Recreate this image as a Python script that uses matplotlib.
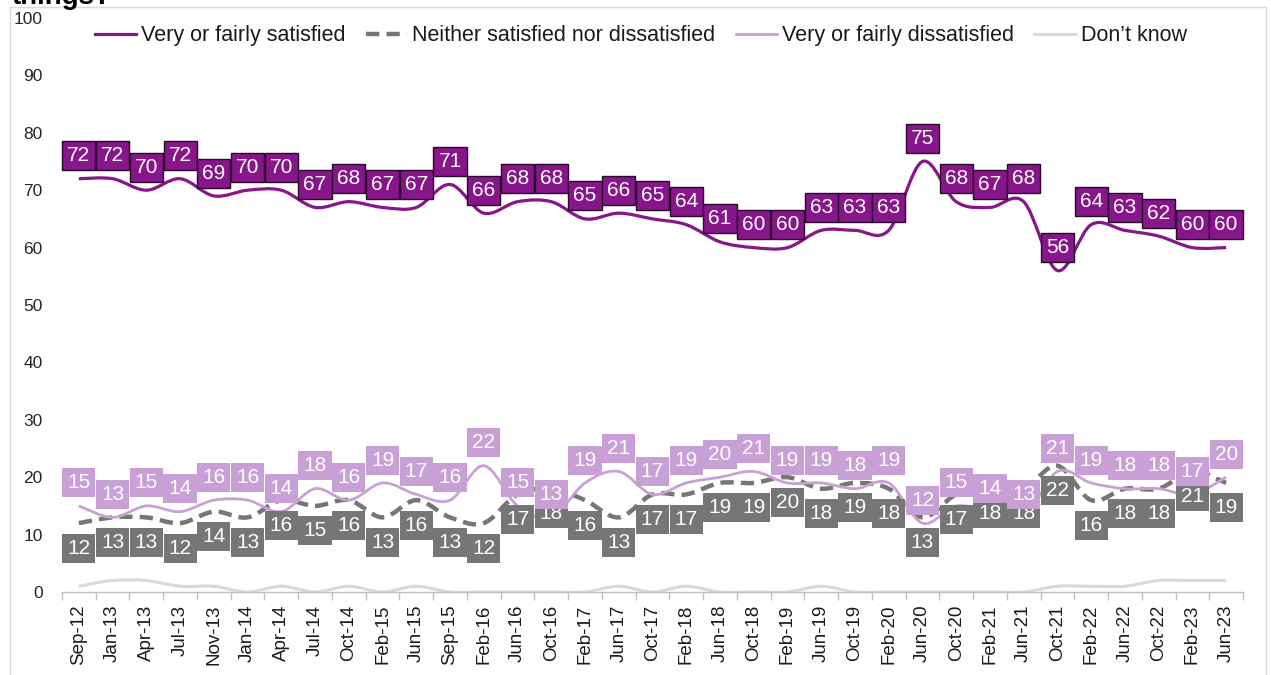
import numpy as np
import matplotlib
matplotlib.use('Agg')
import matplotlib.pyplot as plt
from matplotlib.path import Path
from matplotlib.patches import PathPatch, Rectangle
from matplotlib.lines import Line2D

plt.rcParams['font.family'] = ['Liberation Sans', 'DejaVu Sans']

# Survey waves
meses = ['Sep-12', 'Jan-13', 'Apr-13', 'Jul-13', 'Nov-13', 'Jan-14', 'Apr-14',
         'Jul-14', 'Oct-14', 'Feb-15', 'Jun-15', 'Sep-15', 'Feb-16', 'Jun-16',
         'Oct-16', 'Feb-17', 'Jun-17', 'Oct-17', 'Feb-18', 'Jun-18', 'Oct-18',
         'Feb-19', 'Jun-19', 'Oct-19', 'Feb-20', 'Jun-20', 'Oct-20', 'Feb-21',
         'Jun-21', 'Oct-21', 'Feb-22', 'Jun-22', 'Oct-22', 'Feb-23', 'Jun-23']

satisfeito = [72, 72, 70, 72, 69, 70, 70, 67, 68, 67, 67, 71, 66, 68, 68, 65, 66, 65,
              64, 61, 60, 60, 63, 63, 63, 75, 68, 67, 68, 56, 64, 63, 62, 60, 60]
nem = [12, 13, 13, 12, 14, 13, 16, 15, 16, 13, 16, 13, 12, 17, 18, 16, 13, 17,
       17, 19, 19, 20, 18, 19, 18, 13, 17, 18, 18, 22, 16, 18, 18, 21, 19]
insatisfeito = [15, 13, 15, 14, 16, 16, 14, 18, 16, 19, 17, 16, 22, 15, 13, 19, 21, 17,
                19, 20, 21, 19, 19, 18, 19, 12, 15, 14, 13, 21, 19, 18, 18, 17, 20]
nao_sabe = [1, 2, 2, 1, 1, 0, 1, 0, 1, 0, 1, 0, 0, 0, 0, 0, 1, 0,
            1, 0, 0, 0, 1, 0, 0, 0, 0, 0, 0, 1, 1, 1, 2, 2, 2]

COR_SAT = '#87168A'
COR_NEM = '#767676'
COR_INS = '#C9A0D6'
COR_NS = '#D9D9D9'


def caminho_suave(xs, ys):
    # linha suavizada tipo Excel (Catmull-Rom -> Bezier)
    pts = np.column_stack([xs, ys]).astype(float)
    n = len(pts)
    verts = [pts[0]]
    codes = [Path.MOVETO]
    for i in range(n - 1):
        p0 = pts[max(i - 1, 0)]
        p1 = pts[i]
        p2 = pts[i + 1]
        p3 = pts[min(i + 2, n - 1)]
        verts += [p1 + (p2 - p0) / 6, p2 - (p3 - p1) / 6, p2]
        codes += [Path.CURVE4] * 3
    return Path(verts, codes)


fig = plt.figure(figsize=(12.71, 6.75), dpi=100)
ax = fig.add_axes([62 / 1271, 83 / 675, 1181 / 1271, 574 / 675])

x = np.arange(len(meses))

series = [
    (nao_sabe, COR_NS, 2.2, '-'),
    (nem, COR_NEM, 3.2, (0, (3, 1.6))),
    (insatisfeito, COR_INS, 2.0, '-'),
    (satisfeito, COR_SAT, 2.3, '-'),
]
for vals, cor, lw, ls in series:
    ax.add_patch(PathPatch(caminho_suave(x, vals), fill=False, edgecolor=cor,
                           lw=lw, linestyle=ls, capstyle='butt', zorder=2))

fs_rot = 15
caixa = 'square,pad=0.24'
for xi, v in zip(x, nem):
    ax.annotate(str(v), (xi, v), xytext=(0, -18), textcoords='offset points',
                ha='center', va='center', color='white', fontsize=fs_rot, zorder=4,
                bbox=dict(boxstyle=caixa, fc=COR_NEM, ec='none'))
for xi, v in zip(x, insatisfeito):
    ax.annotate(str(v), (xi, v), xytext=(0, 16.5), textcoords='offset points',
                ha='center', va='center', color='white', fontsize=fs_rot, zorder=5,
                bbox=dict(boxstyle=caixa, fc=COR_INS, ec='none'))
for xi, v in zip(x, satisfeito):
    ax.annotate(str(v), (xi, v), xytext=(0, 16.5), textcoords='offset points',
                ha='center', va='center', color='white', fontsize=fs_rot, zorder=5,
                bbox=dict(boxstyle=caixa, fc=COR_SAT, ec='#2a0a2a', lw=1))

ax.set_xlim(-0.5, len(meses) - 0.5)
ax.set_ylim(0, 100)
ax.set_yticks(range(0, 101, 10))
ax.tick_params(axis='y', length=0, labelsize=12.5, labelcolor='#262626', pad=14)

ax.set_xticks(x)
ax.set_xticklabels(meses, rotation=90, fontsize=13.5, color='#1a1a1a')
ax.set_xticks(np.arange(-0.5, len(meses)), minor=True)
ax.tick_params(axis='x', which='major', length=0, pad=9)
ax.tick_params(axis='x', which='minor', length=6, color='#BFBFBF', width=1)

for lado in ['left', 'right', 'top']:
    ax.spines[lado].set_visible(False)
ax.spines['bottom'].set_color('#BFBFBF')
ax.spines['bottom'].set_linewidth(1)

handles = [
    Line2D([], [], color=COR_SAT, lw=2.3),
    Line2D([], [], color=COR_NEM, lw=3.2, linestyle=(0, (3, 1.6))),
    Line2D([], [], color=COR_INS, lw=2.0),
    Line2D([], [], color=COR_NS, lw=2.2),
]
rotulos = ['Very or fairly satisfied', 'Neither satisfied nor dissatisfied',
           'Very or fairly dissatisfied', 'Don\u2019t know']
ax.legend(handles, rotulos, loc='upper center', bbox_to_anchor=(0.49, 1.021),
          ncol=4, frameon=False, fontsize=15.5, handlelength=1.9,
          handletextpad=0.25, columnspacing=0.95, labelcolor='#1a1a1a')

# moldura e título cortado (como no original)
fig.patches.append(Rectangle((10 / 1271, -0.01), 1256 / 1271, 1 - 7 / 675 + 0.01,
                             transform=fig.transFigure, fill=False,
                             ec='#D9D9D9', lw=1))
fig.text(12 / 1271, 1 - 4 / 675, 'things?', fontsize=20, fontweight='bold',
         va='baseline', ha='left')

fig.savefig('out.png', dpi=100)
